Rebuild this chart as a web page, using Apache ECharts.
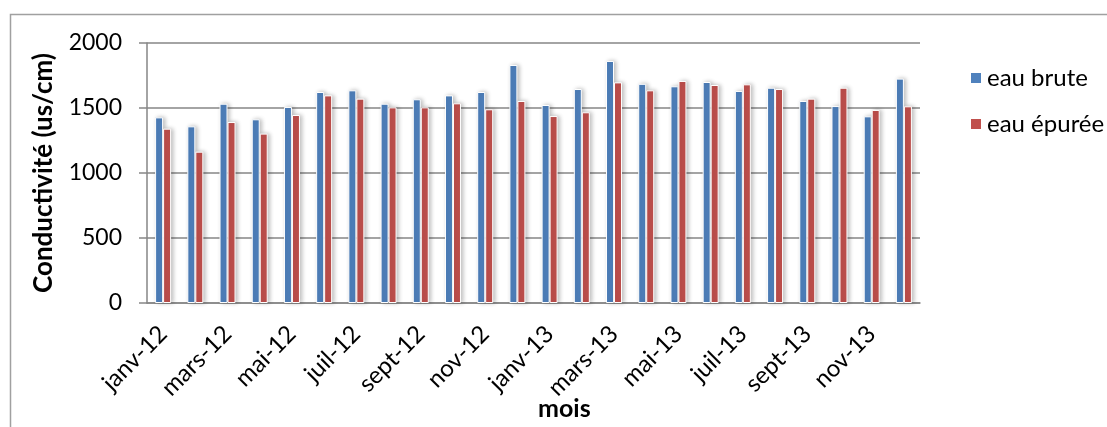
<!DOCTYPE html>
<html>
<head>
<meta charset="utf-8">
<script src="https://cdn.jsdelivr.net/npm/echarts@6/dist/echarts.min.js"></script>
<style>
html,body{margin:0;padding:0;background:#fff;}
#chart{width:1107px;height:427px;}
</style>
</head>
<body>
<div id="chart"></div>
<script>
var months = ['janv-12','févr-12','mars-12','avr-12','mai-12','juin-12','juil-12','août-12','sept-12','oct-12','nov-12','déc-12',
              'janv-13','févr-13','mars-13','avr-13','mai-13','juin-13','juil-13','août-13','sept-13','oct-13','nov-13','déc-13'];
var eauBrute = [1428,1359,1533,1413,1508,1623,1636,1533,1567,1597,1623,1831,1523,1646,1862,1686,1667,1700,1631,1656,1554,1515,1436,1726];
var eauEpuree = [1341,1164,1392,1303,1446,1597,1572,1505,1505,1536,1490,1554,1438,1467,1697,1636,1708,1677,1682,1646,1572,1656,1485,1513];
var seriesNames = ['eau brute','eau épurée'];
var yTitle = 'Conductivité (us/cm)';
var xTitle = 'mois';

var FONT = 'Lato';
var chart = echarts.init(document.getElementById('chart'), null, {renderer:'canvas'});
var barStyle = function(c){
  return {color:c, borderColor:'#ffffff', borderWidth:1, shadowBlur:4, shadowColor:'rgba(0,0,0,0.25)', shadowOffsetX:2, shadowOffsetY:0};
};
chart.setOption({
  animation:false,
  backgroundColor:'#ffffff',
  textStyle:{fontFamily:FONT},
  grid:{left:147, right:187, top:43, bottom:124, containLabel:false},
  legend:{
    orient:'vertical', left:964, top:61, itemWidth:12, itemHeight:12, itemGap:22, icon:'rect',
    textStyle:{fontFamily:FONT, fontSize:24, color:'#000'},
    data:seriesNames
  },
  graphic:[
    {type:'rect', silent:true, shape:{x:10.5, y:14.5, width:1200, height:600}, style:{fill:'none', stroke:'#a0a0a0', lineWidth:1.5}},
    {type:'text', left:538, top:396, style:{text:xTitle, font:'bold 25px '+FONT, fill:'#000'}}
  ],
  xAxis:{
    type:'category', data:months, boundaryGap:true,
    axisLine:{lineStyle:{color:'#868686', width:1.5}},
    axisTick:{interval:0, length:7, lineStyle:{color:'#868686', width:1.5}},
    axisLabel:{interval:1, rotate:45, margin:27, fontSize:24, color:'#000', fontFamily:FONT}
  },
  yAxis:{
    type:'value', min:0, max:2000, interval:500,
    name:yTitle, nameLocation:'middle', nameGap:90, nameRotate:90,
    nameTextStyle:{fontFamily:FONT, fontSize:26, fontWeight:'bold', color:'#000'},
    axisLine:{show:true, lineStyle:{color:'#868686', width:1.5}},
    axisTick:{show:true, length:8, lineStyle:{color:'#868686', width:1.5}},
    axisLabel:{margin:25, fontSize:23, color:'#000', fontFamily:FONT, formatter:function(v){return String(v);}},
    splitLine:{lineStyle:{color:'#868686', width:1.5}}
  },
  series:[
    {name:seriesNames[0], type:'bar', data:eauBrute, barWidth:8, barGap:'0%', itemStyle:barStyle('#4F81BD')},
    {name:seriesNames[1], type:'bar', data:eauEpuree, barWidth:8, barGap:'0%', itemStyle:barStyle('#C0504D')}
  ]
});
</script>
</body>
</html>
